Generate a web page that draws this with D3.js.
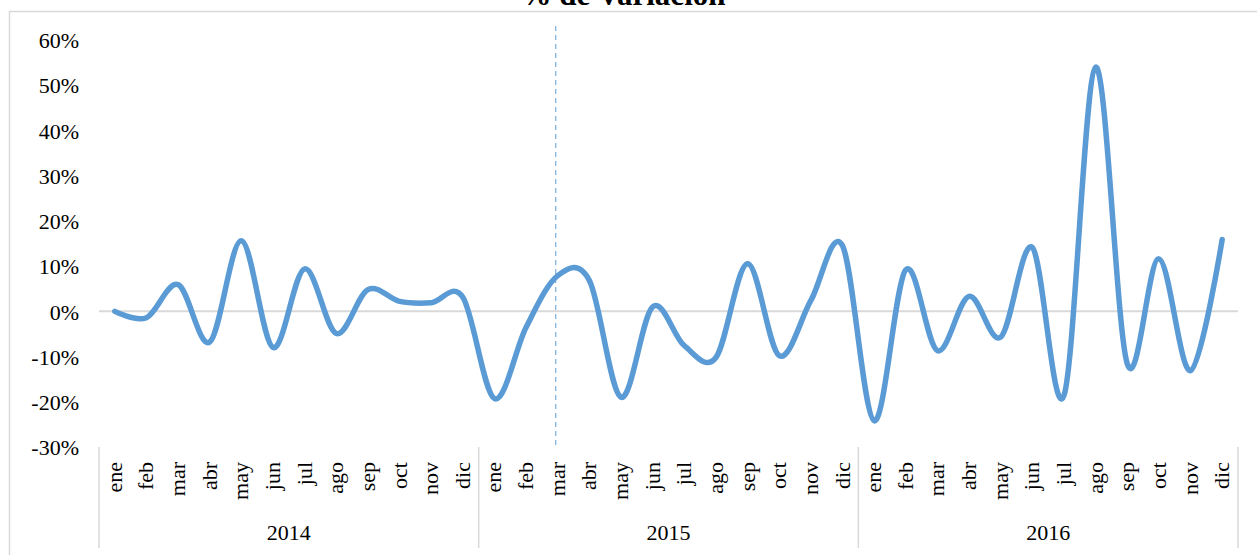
<!DOCTYPE html>
<html>
<head>
<meta charset="utf-8">
<script src="https://cdn.jsdelivr.net/npm/d3@7"></script>
<style>
    body { margin: 0; background: #ffffff; }
    svg text { font-family: "Liberation Serif", "Times New Roman", serif; fill: #000000; }
</style>
</head>
<body>
<div id="my_dataviz"></div>
<script>
// chart data (fraction, 0.1 = 10%)
var years = [2014, 2015, 2016];
var months = ["ene", "feb", "mar", "abr", "may", "jun", "jul", "ago", "sep", "oct", "nov", "dic"];
var values2014 = [0.000, -0.014, 0.059, -0.068, 0.156, -0.080, 0.094, -0.049, 0.048, 0.022, 0.019, 0.031];
var values2015 = [-0.193, -0.035, 0.079, 0.068, -0.190, 0.010, -0.076, -0.102, 0.105, -0.098, 0.024, 0.145];
var values2016 = [-0.242, 0.092, -0.087, 0.033, -0.057, 0.141, -0.186, 0.540, -0.116, 0.116, -0.131, 0.159];
var yTicks = [-0.3, -0.2, -0.1, 0, 0.1, 0.2, 0.3, 0.4, 0.5, 0.6];
var chartTitle = "% de Variación";
var markerYear = 2015, markerMonth = "mar";

function init() {
    var seriesByYear = [values2014, values2015, values2016];
    var data = [];
    for (var i = 0; i < years.length; i++) {
        for (var j = 0; j < months.length; j++) {
            data.push({ year: years[i], month: months[j], key: years[i] + "-" + months[j], value: seriesByYear[i][j] });
        }
    }
    lineChart(data);
}

/*************************************** Start --> Line chart ***************************************/
function lineChart(data) {
    var W = 1257, H = 555;
    var margin = { top: 40, right: 19, bottom: 108, left: 99 };
    var width = W - margin.left - margin.right,
        height = H - margin.top - margin.bottom;

    var svg = d3.select("#my_dataviz")
        .append("svg")
        .attr("width", W)
        .attr("height", H);

    // chart area border
    svg.append("rect")
        .attr("x", 9.5)
        .attr("y", 11.5)
        .attr("width", W + 20)
        .attr("height", H + 20)
        .style("fill", "none")
        .style("stroke", "#d9d9d9")
        .style("stroke-width", 1.5);

    // Title (cut off at the top like the original)
    svg.append("text")
        .attr("x", 623)
        .attr("y", 5)
        .attr("text-anchor", "middle")
        .style("font-size", "31px")
        .style("font-weight", "bold")
        .text(chartTitle);

    var g = svg.append("g")
        .attr("transform", "translate(" + margin.left + "," + margin.top + ")");

    var xScale = d3.scaleBand()
        .domain(data.map(function (d) { return d.key; }))
        .range([0, width]);
    var yScale = d3.scaleLinear().domain([-0.3, 0.6]).range([height, 0]);
    var xMid = function (key) { return xScale(key) + xScale.bandwidth() / 2; };

    // plain hyphen instead of the unicode minus
    var pct = function (d) { return d3.format(".0%")(d).replace("\u2212", "-"); };

    // Y axis labels
    var yAxis = g.append("g")
        .attr("transform", "translate(-20,0)")
        .call(d3.axisLeft(yScale).tickValues(yTicks).tickFormat(pct).tickSize(0));
    yAxis.select(".domain").remove();
    yAxis.selectAll("text")
        .attr("x", 0)
        .attr("dy", "0.35em")
        .style("font-family", "Liberation Serif")
        .style("font-size", "22px");

    // zero line (horizontal axis)
    g.append("line")
        .attr("x1", 0)
        .attr("x2", width)
        .attr("y1", yScale(0))
        .attr("y2", yScale(0))
        .style("stroke", "#d9d9d9")
        .style("stroke-width", 2);

    // category separators
    var yearStarts = years.map(function (y) { return xScale(y + "-" + months[0]); });
    yearStarts.push(width);
    g.selectAll(".sep")
        .data(yearStarts)
        .enter()
        .append("line")
        .attr("x1", function (d) { return d; })
        .attr("x2", function (d) { return d; })
        .attr("y1", height)
        .attr("y2", height + 101)
        .style("stroke", "#d9d9d9")
        .style("stroke-width", 1.5);

    // month labels
    g.selectAll(".month")
        .data(data)
        .enter()
        .append("text")
        .attr("transform", function (d) { return "translate(" + (xMid(d.key) + 7) + "," + (height + 15) + ")rotate(-90)"; })
        .attr("text-anchor", "end")
        .style("font-size", "22px")
        .text(function (d) { return d.month; });

    // year labels
    g.selectAll(".year")
        .data(years)
        .enter()
        .append("text")
        .attr("x", function (d) { return (xScale(d + "-" + months[0]) + xScale(d + "-" + months[11]) + xScale.bandwidth()) / 2; })
        .attr("y", height + 93)
        .attr("text-anchor", "middle")
        .style("font-size", "22px")
        .text(function (d) { return d; });

    // dashed marker
    var mx = xMid(markerYear + "-" + markerMonth) - 2;
    g.append("line")
        .attr("x1", mx)
        .attr("x2", mx)
        .attr("y1", -14)
        .attr("y2", height)
        .style("stroke", "#5b9bd5")
        .style("stroke-width", 1)
        .style("stroke-dasharray", "5,4");

    // line
    var line = d3.line()
        .x(function (d) { return xMid(d.key); })
        .y(function (d) { return yScale(d.value); })
        .curve(d3.curveCatmullRom.alpha(0));

    g.append("path")
        .datum(data)
        .attr("d", line)
        .style("fill", "none")
        .style("stroke", "#5b9bd5")
        .style("stroke-width", 5.5)
        .style("stroke-linecap", "round")
        .style("stroke-linejoin", "round");
}
/*************************************** End --> Line chart ***************************************/

init();
</script>
</body>
</html>
